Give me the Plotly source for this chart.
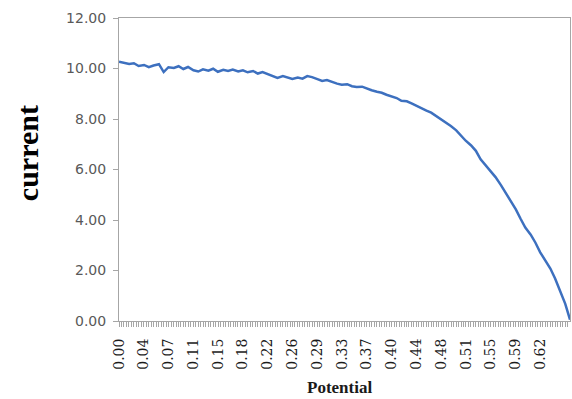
import plotly.graph_objects as go

POTENTIAL = [
    0.000, 0.007, 0.015, 0.022, 0.029, 0.037, 0.044, 0.051, 0.059, 0.066,
    0.073, 0.081, 0.088, 0.095, 0.102, 0.110, 0.117, 0.124, 0.132, 0.139,
    0.146, 0.154, 0.161, 0.168, 0.176, 0.183, 0.190, 0.198, 0.205, 0.212,
    0.220, 0.227, 0.234, 0.242, 0.249, 0.256, 0.264, 0.271, 0.278, 0.285,
    0.293, 0.300, 0.307, 0.315, 0.322, 0.329, 0.337, 0.344, 0.351, 0.359,
    0.366, 0.373, 0.381, 0.388, 0.395, 0.403, 0.410, 0.417, 0.425, 0.432,
    0.439, 0.447, 0.454, 0.461, 0.468, 0.476, 0.483, 0.490, 0.498, 0.505,
    0.512, 0.520, 0.527, 0.534, 0.542, 0.549, 0.556, 0.564, 0.571, 0.578,
    0.586, 0.593, 0.600, 0.608, 0.615, 0.622, 0.630, 0.637, 0.644, 0.651,
    0.659, 0.666,
]
CURRENT = [
    10.27, 10.22, 10.18, 10.21, 10.10, 10.14, 10.05, 10.12, 10.17, 9.86,
    10.05, 10.02, 10.09, 9.98, 10.06, 9.93, 9.88, 9.97, 9.91, 9.99,
    9.87, 9.95, 9.90, 9.96, 9.88, 9.93, 9.85, 9.90, 9.80, 9.86,
    9.78, 9.72, 9.63, 9.70, 9.66, 9.59, 9.64, 9.60, 9.70, 9.66,
    9.58, 9.51, 9.54, 9.46, 9.40, 9.36, 9.38, 9.30, 9.27, 9.28,
    9.20, 9.14, 9.08, 9.04, 8.96, 8.89, 8.83, 8.72, 8.70, 8.62,
    8.52, 8.40, 8.33, 8.25, 8.13, 7.98, 7.86, 7.72, 7.55, 7.34,
    7.14, 6.95, 6.74, 6.40, 6.16, 5.92, 5.70, 5.38, 5.08, 4.78,
    4.42, 4.05, 3.70, 3.42, 3.10, 2.72, 2.40, 2.08, 1.68, 1.20,
    0.68, 0.05,
]

# Category-style tick labels (one every 10 sweep steps of 0.00366 V)
TICK_LABELS = ["0.00", "0.04", "0.07", "0.11", "0.15", "0.18", "0.22", "0.26", "0.29",
               "0.33", "0.37", "0.40", "0.44", "0.48", "0.51", "0.55", "0.59", "0.62"]
SWEEP_STEP = 0.00366
TICK_POS = [i * 10 * SWEEP_STEP for i in range(len(TICK_LABELS))]

Y_TICKS = [0, 2, 4, 6, 8, 10, 12]

fig = go.Figure()
fig.add_trace(go.Scatter(
    x=POTENTIAL, y=CURRENT, mode="lines",
    line=dict(color="#3d70bf", width=2.5),
    showlegend=False, hoverinfo="skip",
))

axis_gray = "#a6a6a6"

fig.update_layout(
    width=572, height=399,
    margin=dict(l=119, r=2, t=18, b=78),
    paper_bgcolor="white", plot_bgcolor="white",
    xaxis=dict(
        range=[0, 0.666],
        tickmode="array", tickvals=TICK_POS, ticktext=TICK_LABELS,
        tickangle=-90,
        tickfont=dict(family="DejaVu Serif", size=14, color="#1a1a1a"),
        ticks="outside", ticklen=5, tickcolor=axis_gray, tickwidth=1,
        minor=dict(dtick=SWEEP_STEP, tick0=0, ticks="outside", ticklen=5,
                   tickcolor=axis_gray, tickwidth=1, showgrid=False),
        ticklabelstandoff=6,
        showgrid=False, zeroline=False,
        showline=True, linecolor=axis_gray, linewidth=1, mirror=True,
    ),
    yaxis=dict(
        range=[0, 12], tickvals=Y_TICKS, tickformat=".2f",
        tickfont=dict(family="DejaVu Sans", size=14, color="#595959"),
        ticks="outside", ticklen=5, tickcolor=axis_gray, tickwidth=1,
        ticklabelstandoff=4,
        showgrid=False, zeroline=False,
        showline=True, linecolor=axis_gray, linewidth=1, mirror=True,
    ),
    annotations=[
        dict(text="current", xref="paper", yref="paper", x=-0.204, y=0.554,
             textangle=-90, showarrow=False, xanchor="center", yanchor="middle",
             font=dict(family="Liberation Serif", size=30, color="black", weight="bold")),
        dict(text="Potential", xref="paper", yref="paper", x=0.49, y=-0.218,
             showarrow=False, xanchor="center", yanchor="middle",
             font=dict(family="Liberation Serif", size=17, color="#1a1a1a", weight="bold")),
    ],
)

fig.write_html("out.html")
